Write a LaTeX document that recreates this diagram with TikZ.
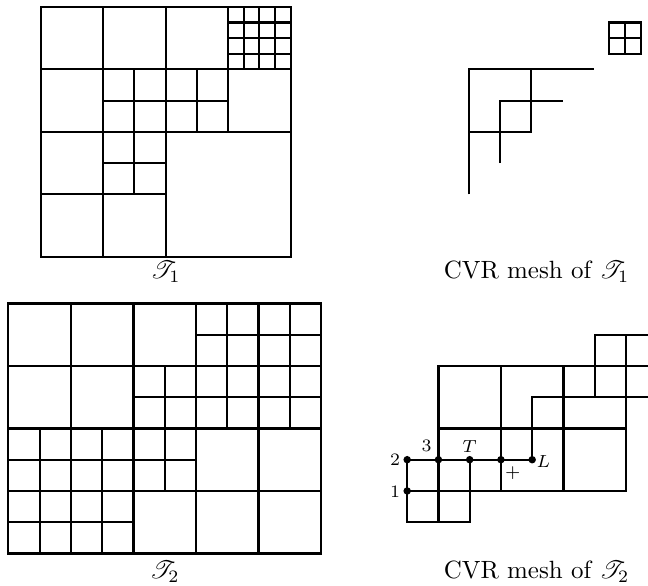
\documentclass[tikz,border=0pt]{standalone}
\usepackage{amsmath,amssymb}
\usepackage{mathrsfs}
\usepackage{tikz}
\usetikzlibrary{positioning}

\begin{document}
\begin{tikzpicture}[
  x=0.44cm, y=0.44cm,
  mesh/.style={line width=0.85pt},
  vtx/.style={circle, fill, inner sep=0pt, minimum size=3pt},
  lab/.style={font=\scriptsize, inner sep=1pt}
]
\useasboundingbox (0,0) rectangle (20.736,-18.72);

% T_1
\begin{scope}[shift={(1.3,-8.22)}, mesh]
\draw (0,0) rectangle (8,8);
\draw (0,6) -- (8,6) (0,4) -- (8,4);
\foreach \x in {2,4,6} \draw (\x,4) -- (\x,8);
\draw (2,0) -- (2,4) (4,0) -- (4,4) (0,2) -- (4,2);
\foreach \t in {6.5,7,7.5} \draw (\t,6) -- (\t,8) (6,\t) -- (8,\t);
\draw (3,4) -- (3,6) (5,4) -- (5,6) (2,5) -- (6,5);
\draw (3,2) -- (3,4) (2,3) -- (4,3);
\end{scope}
\node (lab1) at (5.3,-8.7) {$\mathscr{T}_1$};

% T_2
\begin{scope}[shift={(0.27,-17.71)}, mesh]
\draw (0,0) rectangle (10,8);
\foreach \x in {2,4,6,8} \draw (\x,0) -- (\x,8);
\foreach \y in {2,4,6} \draw (0,\y) -- (10,\y);
\draw (6,7) -- (10,7) (4,5) -- (10,5) (0,3) -- (6,3) (0,1) -- (4,1);
\draw (7,4) -- (7,8) (9,4) -- (9,8) (5,2) -- (5,6) (1,0) -- (1,4) (3,0) -- (3,4);
\end{scope}
\node (lab2) at (5.27,-18.3) {$\mathscr{T}_2$};

% CVR mesh of T_1
\begin{scope}[shift={(13.0,-8.22)}, mesh]
\draw (2,2) -- (2,6) -- (6,6);
\draw (2,4) -- (4,4) -- (4,6);
\draw (3,3) -- (3,5) -- (5,5);
\draw (6.5,6.5) rectangle (7.5,7.5) (7,6.5) -- (7,7.5) (6.5,7) -- (7.5,7);
\end{scope}
\node (cap1) at (17.17,-8.7) {CVR mesh of $\mathscr{T}_1$};

% CVR mesh of T_2
\begin{scope}[shift={(13.03,-17.71)}]
\begin{scope}[mesh]
\draw (0,3) -- (0,1) -- (2,1) -- (2,3);
\draw (0,3) -- (4,3) -- (4,5) -- (7.7,5);
\draw (0,2) -- (7,2) -- (7,7);
\draw (6,5) -- (6,7) -- (7.7,7);
\draw (1,1) -- (1,6) -- (7.7,6);
\draw (3,2) -- (3,6) (5,2) -- (5,6) (1,4) -- (7,4);
\end{scope}
\node[vtx] (p1) at (0,2) {};
\node[vtx] (p2) at (0,3) {};
\node[vtx] (p3) at (1,3) {};
\node[vtx] (pT) at (2,3) {};
\node[vtx] (pP) at (3,3) {};
\node[vtx] (pL) at (4,3) {};
\node[lab] (n1) at (-0.39,1.97) {1};
\node[lab] (n2) at (-0.39,3) {2};
\node[lab] (n3) at (0.62,3.43) {3};
\node[lab] (nT) at (2,3.43) {$T$};
\node[lab] (nL) at (4.36,2.93) {$L$};
\node[lab] (nP) at (3.38,2.57) {$+$};
\end{scope}
\node (cap2) at (17.17,-18.3) {CVR mesh of $\mathscr{T}_2$};
\end{tikzpicture}
\end{document}
